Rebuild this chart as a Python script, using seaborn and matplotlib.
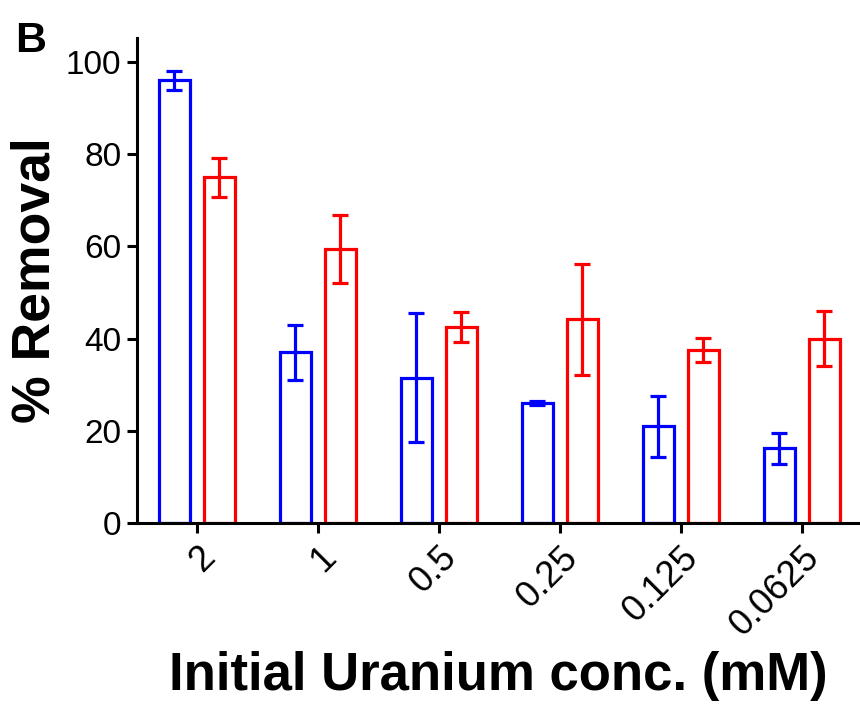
import numpy as np
import pandas as pd
import matplotlib
matplotlib.use("Agg")
import matplotlib.pyplot as plt
import seaborn as sns

# ---- data ----
concentrations = ["2", "1", "0.5", "0.25", "0.125", "0.0625"]
series_names = ["Series 1", "Series 2"]
series1_values = [96.0, 37.0, 31.5, 26.0, 21.0, 16.2]
series1_errors = [2.0, 6.0, 14.0, 0.5, 6.6, 3.4]
series2_values = [75.0, 59.4, 42.5, 44.2, 37.5, 40.0]
series2_errors = [4.2, 7.4, 3.3, 12.0, 2.6, 6.0]
colors = ["#0000ff", "#ff0000"]

df = pd.DataFrame({
    "conc": concentrations * 2,
    "removal": series1_values + series2_values,
    "series": [series_names[0]] * 6 + [series_names[1]] * 6,
})

sns.set_style("ticks")
plt.rcParams["font.family"] = ["Liberation Sans", "DejaVu Sans"]
plt.rcParams["text.color"] = "black"
plt.rcParams["axes.labelcolor"] = "black"

fig = plt.figure(figsize=(8.6, 7.06), dpi=100)
ax = fig.add_axes([136.5 / 860, 183 / 706, (860 - 136.5) / 860, (523 - 38) / 706])

sns.barplot(data=df, x="conc", y="removal", hue="series", order=concentrations,
            hue_order=series_names, palette=colors, fill=False, linewidth=2.3,
            width=0.744, gap=0.31, errorbar=None, legend=False, ax=ax)

# error bars drawn at the bar centres
for patch_group, vals, errs, col in zip(
        [ax.patches[:6], ax.patches[6:12]],
        [series1_values, series2_values],
        [series1_errors, series2_errors], colors):
    xs = [p.get_x() + p.get_width() / 2 for p in patch_group]
    ax.errorbar(xs, vals, yerr=errs, fmt="none", ecolor=col, elinewidth=2.3,
                capsize=5.5, capthick=2.3, zorder=3)

ax.set_xlim(-0.5, 5.48)
ax.set_ylim(0, 105.2)
ax.set_yticks([0, 20, 40, 60, 80, 100])
ax.set_xticks(range(6))
ax.set_xticklabels(concentrations, rotation=45, ha="right", rotation_mode="anchor")

for s in ["top", "right"]:
    ax.spines[s].set_visible(False)
for s in ["left", "bottom"]:
    ax.spines[s].set_linewidth(2.2)
    ax.spines[s].set_color("black")

ax.tick_params(axis="both", which="major", length=7, width=2.2,
               color="black", labelcolor="black", direction="out")
ax.tick_params(axis="y", labelsize=24, pad=4)
ax.tick_params(axis="x", labelsize=26, pad=5)

ax.set_ylabel("% Removal", fontsize=38.5, fontweight="bold", labelpad=4, color="black")
ax.set_xlabel("Initial Uranium conc. (mM)", fontsize=38, fontweight="bold", labelpad=6, color="black")

fig.text(15 / 860, 1 - 52 / 706, "B", fontsize=31, fontweight="bold", ha="left",
         va="baseline", color="black")

fig.savefig("out.png", dpi=100)
